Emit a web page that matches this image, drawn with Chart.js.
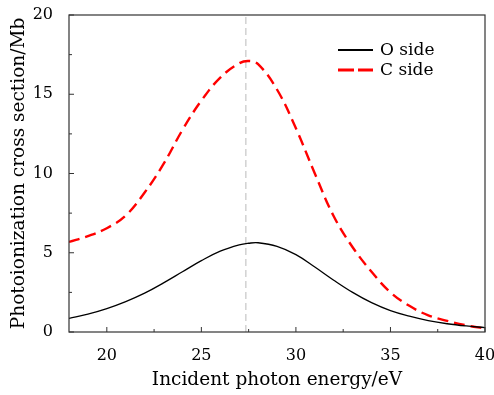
<!DOCTYPE html>
<html>
<head>
<meta charset="utf-8">
<script src="https://cdn.jsdelivr.net/npm/chart.js@4.4.1/dist/chart.umd.min.js"></script>
<style>
  html, body { margin: 0; padding: 0; background: #fff; }
  #wrap { width: 494px; height: 395px; }
</style>
</head>
<body>
<div id="wrap"><canvas id="myChart" width="494" height="395"></canvas></div>
<script>
/****************** data ******************/
const energy = [18, 19, 20, 21, 22, 23, 24, 25, 26, 27, 27.5, 28, 29, 30, 31, 32, 33, 34, 35, 36, 37, 38, 39, 40];
const oSide  = [0.86, 1.13, 1.48, 1.92, 2.45, 3.1, 3.8, 4.5, 5.1, 5.5, 5.6, 5.63, 5.4, 4.88, 4.1, 3.27, 2.5, 1.85, 1.35, 1.0, 0.72, 0.52, 0.38, 0.28];
const cSide  = [5.68, 6.05, 6.55, 7.35, 8.8, 10.6, 12.75, 14.6, 16.05, 16.95, 17.1, 16.9, 15.3, 12.85, 10.0, 7.3, 5.35, 3.8, 2.5, 1.65, 1.05, 0.7, 0.42, 0.22];
const markerEnergy = [27.35, 27.35];
const markerRange = [0, 20];
const seriesNames = ['O side', 'C side'];

const serif = "'DejaVu Serif', 'Liberation Serif', serif";

function toPoints(xs, ys) {
  return xs.map((x, i) => ({ x: x, y: ys[i] }));
}

/****************** frame, inward ticks, legend ******************/
const framePlugin = {
  id: 'frame',
  afterDraw(chart) {
    const ctx = chart.ctx;
    const a = chart.chartArea;
    const xs = chart.scales.x;
    const ys = chart.scales.y;
    ctx.save();
    ctx.strokeStyle = '#333';
    ctx.lineWidth = 1.2;
    ctx.strokeRect(a.left, a.top, a.right - a.left, a.bottom - a.top);

    ctx.lineWidth = 1;
    xs.ticks.forEach(t => {
      if (Math.abs(t.value / 2.5 - Math.round(t.value / 2.5)) > 1e-6) return;
      const len = (t.value % 5 === 0) ? 5 : 3;
      const px = xs.getPixelForValue(t.value);
      ctx.beginPath();
      ctx.moveTo(px, a.bottom);
      ctx.lineTo(px, a.bottom - len);
      ctx.stroke();
    });
    ys.ticks.forEach(t => {
      const len = (t.value % 5 === 0) ? 5 : 3;
      const py = ys.getPixelForValue(t.value);
      ctx.beginPath();
      ctx.moveTo(a.left, py);
      ctx.lineTo(a.left + len, py);
      ctx.stroke();
    });

    // legend
    const lx = a.left + 269, ly = a.top + 35;
    const items = [chart.data.datasets[0], chart.data.datasets[1]];
    items.forEach((ds, i) => {
      const y = ly + i * 20;
      ctx.beginPath();
      ctx.strokeStyle = ds.borderColor;
      ctx.lineWidth = i === 0 ? 2 : 3;
      ctx.setLineDash(i === 0 ? [] : [16, 4]);
      ctx.moveTo(lx, y);
      ctx.lineTo(lx + 35, y);
      ctx.stroke();
      ctx.setLineDash([]);
      ctx.fillStyle = '#000';
      ctx.font = '17px ' + serif;
      ctx.textBaseline = 'middle';
      ctx.fillText(ds.label, lx + 42, y + 1);
    });
    ctx.restore();
  }
};

let ctx = document.getElementById('myChart').getContext('2d');
let myChart = new Chart(ctx, {
  type: 'line',
  data: {
    datasets: [{
      label: seriesNames[0],
      data: toPoints(energy, oSide),
      borderColor: '#000',
      borderWidth: 1.3,
      pointRadius: 0,
      tension: 0.4,
      order: 1
    }, {
      label: seriesNames[1],
      data: toPoints(energy, cSide),
      borderColor: '#ff0000',
      borderWidth: 2.4,
      borderDash: [11, 6],
      pointRadius: 0,
      tension: 0.4,
      order: 2
    }, {
      label: 'marker',
      data: toPoints(markerEnergy, markerRange),
      borderColor: '#d4d4d4',
      borderWidth: 1.6,
      borderDash: [7, 4],
      pointRadius: 0,
      order: 3
    }]
  },
  options: {
    responsive: false,
    animation: false,
    layout: { padding: { top: 15, right: 9, left: 0, bottom: 0 } },
    plugins: {
      legend: { display: false },
      tooltip: { enabled: false }
    },
    scales: {
      x: {
        type: 'linear',
        min: 18,
        max: 40,
        grid: { display: false },
        border: { display: false },
        ticks: {
          stepSize: 2.5,
          autoSkip: false,
          maxRotation: 0,
          padding: 6,
          color: '#000',
          font: { family: serif, size: 16 },
          callback: v => (v % 5 === 0 ? String(v) : '')
        },
        title: {
          display: true,
          text: 'Incident photon energy/eV',
          color: '#000',
          font: { family: serif, size: 18.5 },
          padding: { top: 8 }
        },
        afterFit: s => { s.height = 63; s.paddingLeft = 0; s.paddingRight = 0; }
      },
      y: {
        min: 0,
        max: 20,
        grid: { display: false },
        border: { display: false },
        ticks: {
          stepSize: 2.5,
          autoSkip: false,
          padding: 8,
          color: '#000',
          font: { family: serif, size: 16 },
          callback: v => (v % 5 === 0 ? String(v) : '')
        },
        title: {
          display: true,
          text: 'Photoionization cross section/Mb',
          color: '#000',
          font: { family: serif, size: 18.5 },
          padding: { top: 8 }
        },
        afterFit: s => { s.width = 69; s.paddingTop = 0; s.paddingBottom = 0; }
      }
    }
  },
  plugins: [framePlugin]
});
</script>
</body>
</html>
